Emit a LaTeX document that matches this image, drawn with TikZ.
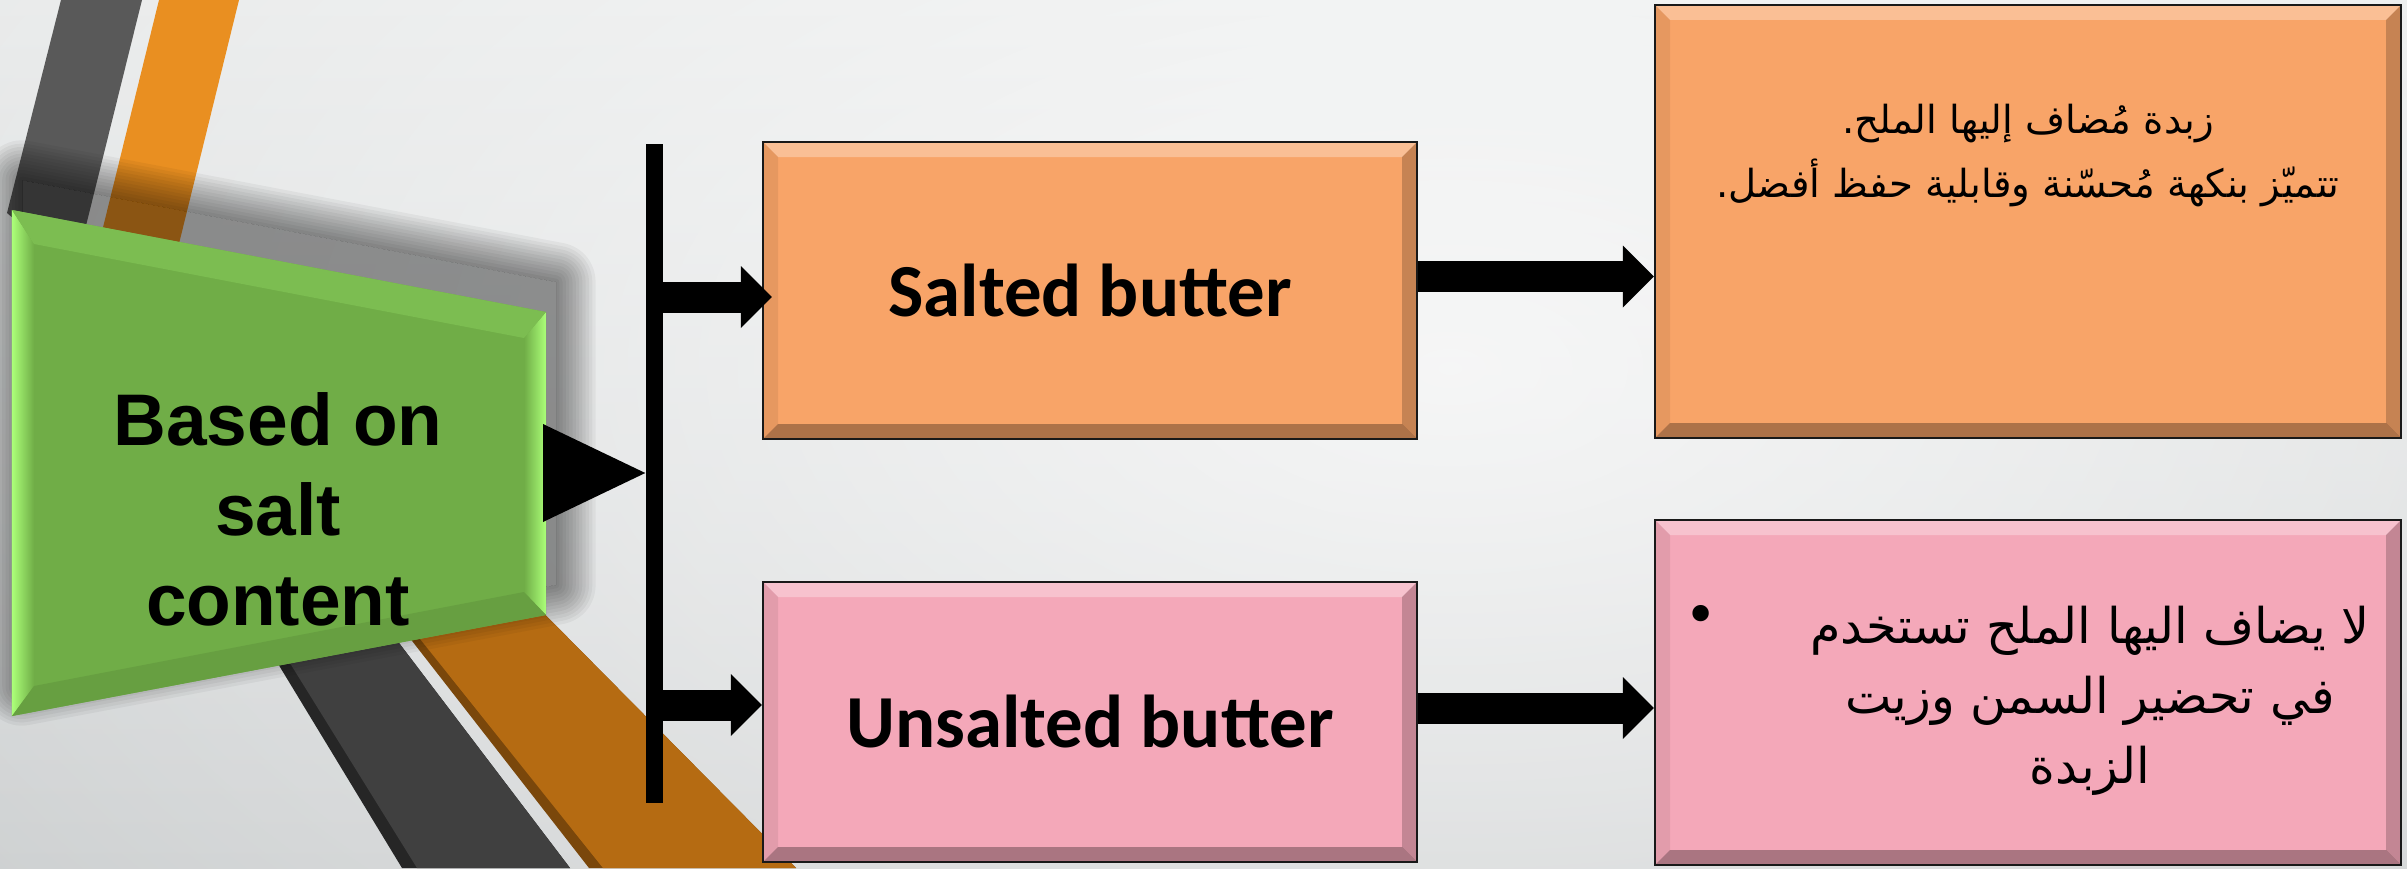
\documentclass[tikz,border=0pt]{standalone}
\usepackage{fontspec}
\setmainfont{Liberation Sans}
\newfontfamily\labelfont{Carlito}
\newfontfamily\arabicfont[Script=Arabic]{DejaVu Sans}
\TeXXeTstate=1
\usetikzlibrary{arrows.meta,fadings}

\definecolor{bgTop}{HTML}{E6E8E8}
\definecolor{bgBottom}{HTML}{C9CCCD}
\definecolor{stripeGray}{HTML}{595959}
\definecolor{stripeOrange}{HTML}{E98F21}
\definecolor{stripeDark}{HTML}{404040}
\definecolor{stripeEdge}{HTML}{262626}
\definecolor{stripeBrown}{HTML}{B56B12}
\definecolor{brownEdge}{HTML}{7A470B}
\definecolor{leafGreen}{HTML}{70AD47}
\definecolor{leafLight}{HTML}{ABFF78}
\definecolor{saltOrange}{HTML}{F8A468}
\definecolor{plainPink}{HTML}{F4A8B9}

\tikzfading[name=glow, inner color=transparent!0, outer color=transparent!100]
\newcommand\panelpath{(0.12,6.58) -- (5.46,5.56) -- (5.46,2.53) -- (0.12,1.52) -- cycle}

\begin{document}
\begin{tikzpicture}[
  bevel/.style={path picture={
    \path (path picture bounding box.north west) coordinate (nw)
          (path picture bounding box.north east) coordinate (ne)
          (path picture bounding box.south west) coordinate (sw)
          (path picture bounding box.south east) coordinate (se);
    \fill[white,opacity=.3] (nw) -- (ne) -- ([shift={(-.15,-.15)}]ne) -- ([shift={(.15,-.15)}]nw) -- cycle;
    \fill[black,opacity=.3] (sw) -- (se) -- ([shift={(-.15,.15)}]se) -- ([shift={(.15,.15)}]sw) -- cycle;
    \fill[black,opacity=.2] (ne) -- (se) -- ([shift={(-.15,.15)}]se) -- ([shift={(-.15,-.15)}]ne) -- cycle;
    \fill[black,opacity=.07] (nw) -- (sw) -- ([shift={(.15,.15)}]sw) -- ([shift={(.15,-.15)}]nw) -- cycle;
  }},
  box/.style={bevel,draw=black!90,line width=0.6pt,minimum width=6.54cm,inner sep=0pt},
  note/.style={box,minimum width=7.46cm},
  feed/.style={black,line width=0.31cm,-{Triangle[length=0.31cm,width=0.62cm,line width=0pt,fill=black]}},
  caption/.style={font=\labelfont\bfseries\fontsize{21.3}{25}\selectfont},
  arabic/.style={font=\arabicfont\fontsize{11}{18.2}\selectfont,align=center,anchor=base},
]
\useasboundingbox (0,0) rectangle (24.07,8.68);
\clip (0,0) rectangle (24.07,8.68);

% backdrop
\shade[top color=bgTop,bottom color=bgBottom] (0,0) rectangle (24.07,8.68);
\fill[white,fill opacity=.75,path fading=glow] (14.5,5) ellipse (20 and 11);

% slanted bands behind the green panel
\fill[stripeGray] (0.61,8.68) -- (1.42,8.68) -- (0.75,5.98) -- (0.07,6.55) -- cycle;
\fill[stripeOrange] (1.59,8.68) -- (2.39,8.68) -- (1.75,6.08) -- (0.95,6.08) -- cycle;
\fill[stripeEdge] (2.15,3.08) -- (3.36,3.08) -- (5.70,0) -- (4.02,0) -- cycle;
\fill[stripeDark] (2.26,3.08) -- (3.36,3.08) -- (5.70,0) -- (4.17,0) -- cycle;
\fill[brownEdge] (3.49,3.08) -- (4.91,3.08) -- (7.96,0) -- (5.89,0) -- cycle;
\fill[stripeBrown] (3.57,3.08) -- (4.91,3.08) -- (7.96,0) -- (6.03,0) -- cycle;

% soft shadow, pushed up and to the right
\begin{scope}[shift={(0.1,0.3)}]
  \fill[black,opacity=.4] \panelpath;
  \begin{scope}[even odd rule]
    \clip (-2,-2) rectangle (10,12) \panelpath;
    \foreach \w in {1,...,12}
      \draw[black,draw opacity=.042,line width=\w*0.066cm,line join=round] \panelpath;
  \end{scope}
\end{scope}

% green panel with bevelled rims
\fill[leafGreen] \panelpath;
\shade[left color=leafLight,right color=leafGreen] (0.12,6.58) -- (0.34,6.24) -- (0.34,1.82) -- (0.12,1.52) -- cycle;
\shade[left color=leafGreen,right color=leafLight] (5.46,5.56) -- (5.24,5.30) -- (5.24,2.76) -- (5.46,2.53) -- cycle;
\fill[leafGreen!80!leafLight] (0.12,6.58) -- (5.46,5.56) -- (5.24,5.30) -- (0.34,6.24) -- cycle;
\fill[leafGreen!92!black] (0.12,1.52) -- (0.34,1.82) -- (5.24,2.76) -- (5.46,2.53) -- cycle;
\node[font=\bfseries\fontsize{20.8}{25.6}\selectfont,align=center] (basis) at (2.78,3.585) {Based on\\salt\\content};

% splitter
\node[fill=black,minimum width=0.17cm,minimum height=6.59cm,inner sep=0pt] (bar) at (6.545,3.945) {};
\coordinate (basisR) at (5.43,3.95);
\fill ([yshift=4.9mm]basisR) -- (bar.west |- basisR) -- ([yshift=-4.9mm]basisR) -- cycle;

% the two kinds
\node[box,fill=saltOrange,minimum height=2.97cm,caption] (salted) at (10.90,5.775) {Salted butter};
\node[box,fill=plainPink,minimum height=2.80cm,caption] (unsalted) at (10.90,1.46) {Unsalted butter};

\node[note,fill=saltOrange,minimum height=4.33cm] (saltnote) at (20.28,6.465) {};
\node[note,fill=plainPink,minimum height=3.45cm] (plainnote) at (20.28,1.755) {};

\node[arabic] (saltfacts) at (20.28,6.71)
  {\beginR زبدة مُضاف إليها الملح.\endR\\\beginR تتميّز بنكهة مُحسّنة وقابلية حفظ أفضل.\endR};
\node[arabic,font=\arabicfont\fontsize{14}{19.9}\selectfont] (plainfacts) at (20.9,0.85)
  {\beginR لا يضاف اليها الملح تستخدم\endR\\\beginR في تحضير السمن وزيت\endR\\\beginR الزبدة\endR};
\node[font=\arabicfont\fontsize{16}{20}\selectfont] (dot) at (17.01,2.48) {•};

% arrows
\coordinate (inS) at ([yshift=-0.65mm]salted.west);
\coordinate (inU) at ([yshift=1.7mm]unsalted.west);
\coordinate (outS) at ([yshift=1.4mm]salted.east);
\coordinate (outU) at ([yshift=1.4mm]unsalted.east);
\draw[feed] (bar.center |- inS) -- ([xshift=1mm]inS);
\draw[feed] (bar.center |- inU) -- (inU);
\draw[feed] (outS) -- (saltnote.west |- outS);
\draw[feed] (outU) -- (plainnote.west |- outU);
\end{tikzpicture}
\end{document}
